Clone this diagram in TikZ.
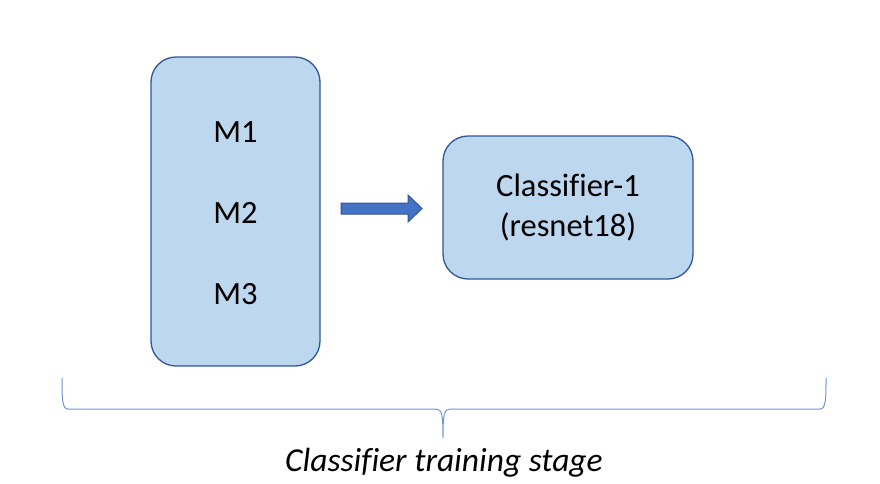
\documentclass[tikz,border=0pt]{standalone}
\usepackage{fontspec}
\setmainfont{Carlito}[Ligatures=NoCommon]
\definecolor{boxfill}{HTML}{BDD7EE}
\definecolor{boxdraw}{HTML}{2F5597}
\definecolor{arrfill}{HTML}{4472C4}
\definecolor{bracecol}{HTML}{6F93D6}
\tikzset{
  roundbox/.style={draw=boxdraw, fill=boxfill, line width=1.3pt, rounded corners=25pt},
  lbl/.style={font=\fontsize{32.5}{40}\selectfont, align=center, text=black},
  blockarrow/.style={draw=boxdraw, fill=arrfill, line width=1pt, line join=miter}
}
\begin{document}
\begin{tikzpicture}[x=1pt,y=-1pt]
\useasboundingbox (0,0) rectangle (880,483);
\node[roundbox, minimum width=169pt, minimum height=309pt] (mbox) at (235.5,211.5) {};
\node[lbl] (m1) at (235.5,132) {M1};
\node[lbl] (m2) at (235.5,213) {M2};
\node[lbl] (m3) at (235.5,294) {M3};
\node[roundbox, minimum width=250pt, minimum height=143pt, lbl] (c1) at (568,207.5) {Classifier-1\\(resnet18)};
\coordinate (as) at (341,208.5);
\draw[blockarrow] (as) ++(0,-5.5) -- ++(67,0) -- ++(0,-8) -- ++(14,13.5) -- ++(-14,13.5) -- ++(0,-8) -- ++(-67,0) -- cycle;
\draw[bracecol, line width=1pt] (62,378) .. controls (62,398) and (62,409) .. (68,409) -- (436,409) .. controls (442,409) and (443,415) .. (443,438)
  (443,438) .. controls (443,415) and (444,409) .. (450,409) -- (820,409) .. controls (826,409) and (826,398) .. (826,378);
\node[lbl, font=\fontsize{33.5}{40}\selectfont\itshape] (cap) at (444,463) {Classifier training stage};
\end{tikzpicture}
\end{document}
